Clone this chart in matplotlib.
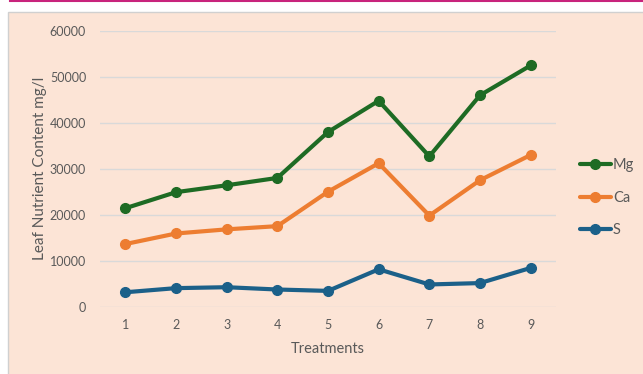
import matplotlib.pyplot as plt
from matplotlib.patches import Rectangle
from matplotlib.lines import Line2D

treatments = [1, 2, 3, 4, 5, 6, 7, 8, 9]
mg = [21400, 24900, 26400, 28000, 38000, 44800, 32700, 46000, 52500]
ca = [13600, 15900, 16800, 17500, 25000, 31200, 19800, 27500, 33000]
s = [3100, 4000, 4200, 3700, 3400, 8100, 4800, 5100, 8400]

series = [("Mg", mg, "#1e6b24"), ("Ca", ca, "#ed7d31"), ("S", s, "#1b6089")]
text_col = "#595959"

plt.rcParams["font.family"] = ["Lato", "DejaVu Sans"]

fig = plt.figure(figsize=(6.43, 3.74), dpi=100)
fig.patch.set_facecolor("white")

# chart area panel and the rule above it
fig.add_artist(Rectangle((8 / 643, -0.01), 1.0, (374 - 12) / 374 + 0.01,
                         transform=fig.transFigure, facecolor="#fce4d6",
                         edgecolor="#d0d0d0", lw=1.0, zorder=0))
fig.add_artist(Line2D([10 / 643, 1.0], [1 - 1 / 374, 1 - 1 / 374],
                      transform=fig.transFigure, color="#c8237c", lw=1.5))

ax = fig.add_axes([100 / 643, (374 - 306.5) / 374, 456 / 643, 275.5 / 374])
ax.set_facecolor("none")

for name, vals, col in series:
    ax.plot(treatments, vals, color=col, lw=3, marker="o", ms=7,
            label=name, solid_capstyle="round")

ax.set_xlim(0.5, 9.5)
ax.set_ylim(0, 60000)
ax.set_yticks(range(0, 60001, 10000))
ax.set_xticks(treatments)
ax.yaxis.grid(True, color="#d9d9d9", lw=1)
ax.set_axisbelow(True)
for sp in ax.spines.values():
    sp.set_visible(False)
ax.tick_params(length=0, labelsize=9, colors=text_col)
ax.tick_params(axis="y", pad=10)
ax.tick_params(axis="x", pad=9)

ax.set_xlabel("Treatments", fontsize=10.5, color=text_col, labelpad=8)
ax.set_ylabel("Leaf Nutrient Content mg/l", fontsize=11, color=text_col,
              labelpad=2)

leg = ax.legend(loc="center left", bbox_to_anchor=(1.024, 0.395),
                frameon=False, fontsize=10.5, labelcolor=text_col,
                handlelength=2.1, handletextpad=0.15, labelspacing=1.25)

fig.savefig("out.png", dpi=100, facecolor=fig.get_facecolor())
